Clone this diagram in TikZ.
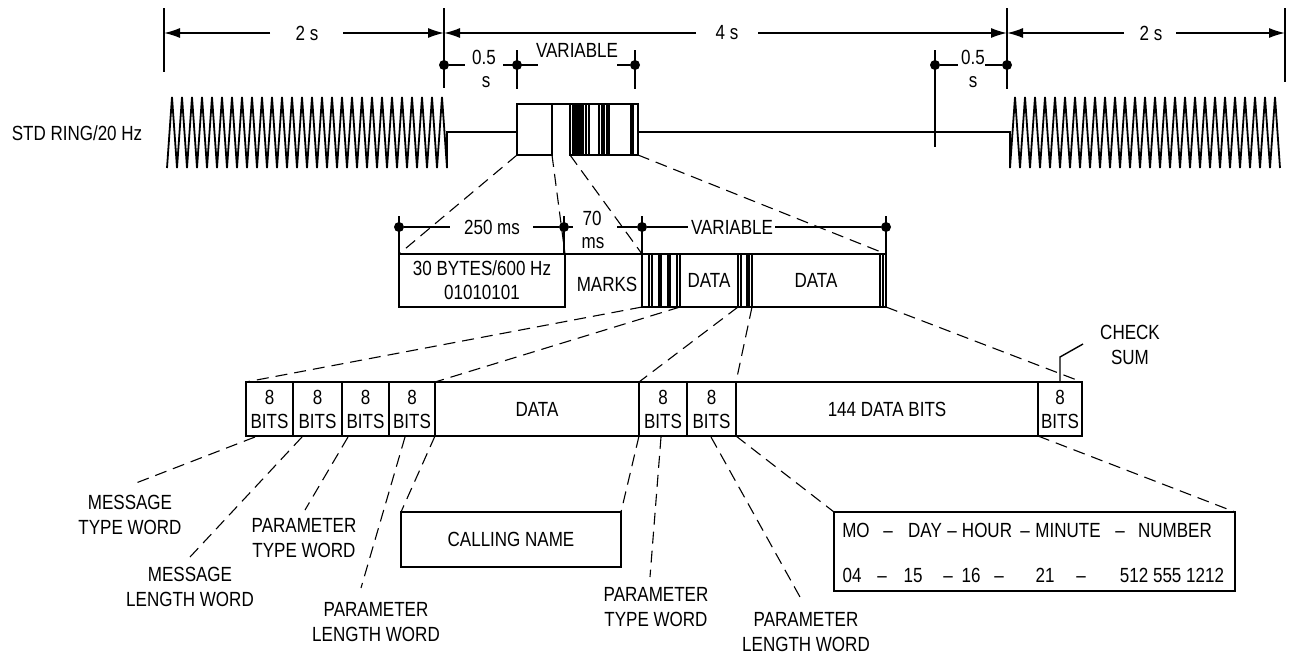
\documentclass[tikz,border=0pt]{standalone}
\usepackage{fontspec}
\setmainfont{Liberation Sans}[FakeStretch=0.83]
\usetikzlibrary{arrows.meta}
\begin{document}
\begin{tikzpicture}[x=1pt,y=-1pt,
  lbl/.style={font=\fontsize{20.5pt}{25.5pt}\selectfont, inner sep=0pt, align=center},
  box/.style={draw, line width=1.8pt, inner sep=0pt, outer sep=0pt, anchor=north west,
              font=\fontsize{20.5pt}{24pt}\selectfont, align=center},
  boxln/.style={line width=1.8pt},
  wave/.style={line width=1.8pt, line join=miter},
  stripe/.style={line width=1.5pt},
  dimln/.style={line width=1.4pt},
  dashln/.style={line width=1.1pt, dash pattern=on 12pt off 7pt},
  arr/.style={-{Latex[length=16pt,width=10pt]}},
  dotn/.style={circle, fill, inner sep=0pt, minimum size=10pt}
]
\useasboundingbox (0,0) rectangle (1292,656);

% ---------------- top dimension lines ----------------
\coordinate (tk1a) at (164,8);   \coordinate (tk1b) at (164,72);
\coordinate (tk2a) at (444,8);   \coordinate (tk2b) at (444,88);
\coordinate (tk3a) at (1007,8);  \coordinate (tk3b) at (1007,89);
\coordinate (tk4a) at (1285,8);  \coordinate (tk4b) at (1285,82);
\draw[dimln] (tk1a) -- (tk1b);
\draw[dimln] (tk2a) -- (tk2b);
\draw[dimln] (tk3a) -- (tk3b);
\draw[dimln] (tk4a) -- (tk4b);

\node[lbl] (t2a) at (307,33) {2 s};
\node[lbl] (t4) at (727,33) {4 s};
\node[lbl] (t2b) at (1151,33) {2 s};
\coordinate (a1) at (270,33); \coordinate (a2) at (343,33);
\coordinate (a3) at (696,33); \coordinate (a4) at (758,33);
\coordinate (a5) at (1124,33); \coordinate (a6) at (1176,33);
\draw[dimln,arr] (a1) -- (tk1a |- a1);
\draw[dimln,arr] (a2) -- (tk2a |- a2);
\draw[dimln,arr] (a3) -- (tk2a |- a3);
\draw[dimln,arr] (a4) -- (tk3a |- a4);
\draw[dimln,arr] (a5) -- (tk3a |- a5);
\draw[dimln,arr] (a6) -- (tk4a |- a6);

% second level dims
\draw[dimln] (517,50) -- (517,89);
\draw[dimln] (635,50) -- (635,89);
\draw[dimln] (935,50) -- (935,147);
\node[dotn] (d1) at (444,65) {};
\node[dotn] (d2) at (517,65) {};
\node[dotn] (d3) at (635,65) {};
\node[dotn] (d4) at (935,65) {};
\node[dotn] (d5) at (1007,65) {};
\coordinate (e1) at (465,65); \coordinate (e2) at (503,65); \coordinate (e3) at (538,65);
\coordinate (e4) at (617,65); \coordinate (e5) at (958,65); \coordinate (e6) at (985,65);
\draw[dimln] (d1) -- (e1);
\draw[dimln] (e2) -- (e3);
\draw[dimln] (e4) -- (d3);
\draw[dimln] (d4) -- (e5);
\draw[dimln] (e6) -- (d5);
\node[lbl, anchor=base] (h1) at (484,64) {0.5};
\node[lbl, anchor=base] (h2) at (486,87) {s};
\node[lbl] (v1) at (577,50) {VARIABLE};
\node[lbl, anchor=base] (h3) at (973,64) {0.5};
\node[lbl, anchor=base] (h4) at (973,87) {s};

% ---------------- ringing waveform ----------------
\node[lbl] (std) at (77,133) {STD RING/20 Hz};
\draw[wave] (167,168) \foreach \i in {0,...,27}{ -- ({172+10*\i},97) -- ({177+10*\i},168) } -- (447,132) -- (517,132);
\node[box, minimum width=35pt, minimum height=51pt] (r1) at (517,104) {};
\node[box, minimum width=68pt, minimum height=51pt] (r2) at (570,104) {};
\draw[boxln] (r1.north east) -- (r2.north west);
\foreach \x in {573,575,577,579,581,583,586,589,599,602,604,607,609,631,633}
  \draw[stripe] (\x,104) -- (\x,155);
\draw[wave] (638,132) -- (1010,132) -- (1010,168) \foreach \i in {0,...,26}{ -- ({1015+10*\i},97) -- ({1020+10*\i},168) };

% ---------------- middle row ----------------
\node[box, minimum width=166pt, minimum height=53pt] (m1) at (399,254) {30 BYTES/600 Hz\\01010101};
\node[box, minimum width=38pt, minimum height=53pt] (ms1) at (642,254) {};
\node[box, minimum width=58pt, minimum height=53pt] (md1) at (680,254) {DATA};
\node[box, minimum width=14pt, minimum height=53pt] (ms2) at (738,254) {};
\node[box, minimum width=128pt, minimum height=53pt] (md2) at (752,254) {DATA};
\node[box, minimum width=6pt, minimum height=53pt] (ms3) at (880,254) {};
\draw[boxln] (m1.north east) -- (ms1.north west);
\node[lbl] (mk) at (607,284) {MARKS};
\foreach \x in {649,652,659,661,668,670,677,741,747,749,883}
  \draw[stripe] (\x,254) -- (\x,307);

% middle dims
\node[dotn] (g1) at (399,227) {};
\node[dotn] (g2) at (564,227) {};
\node[dotn] (g3) at (642,227) {};
\node[dotn] (g4) at (886,227) {};
\draw[dimln] (399,216) -- (m1.north west);
\draw[dimln] (564,216) -- (564,254);
\draw[dimln] (642,216) -- (ms1.north west);
\draw[dimln] (886,216) -- (ms3.north east);
\coordinate (f1) at (450,227); \coordinate (f2) at (533,227); \coordinate (f3) at (573,227);
\coordinate (f4) at (617,227); \coordinate (f5) at (688,227); \coordinate (f6) at (775,227);
\draw[dimln] (g1) -- (f1);
\draw[dimln] (f2) -- (g2) -- (f3);
\draw[dimln] (f4) -- (g3) -- (f5);
\draw[dimln] (f6) -- (g4);
\node[lbl] (l250) at (492,227) {250 ms};
\node[lbl, anchor=base] (l70) at (592,225) {70};
\node[lbl, anchor=base] (lms) at (593,248) {ms};
\node[lbl] (v2) at (732,227) {VARIABLE};

% dashed projections top -> middle
\draw[dashln] (r1.south west) -- (m1.north west);
\draw[dashln] (r1.south east) -- (m1.north east);
\draw[dashln] (r2.south west) -- (ms1.north west);
\draw[dashln] (r2.south east) -- (ms3.north east);

% ---------------- bottom row ----------------
\node[box, minimum width=47pt, minimum height=54pt] (b1) at (246,382) {8\\BITS};
\node[box, minimum width=49pt, minimum height=54pt] (b2) at (293,382) {8\\BITS};
\node[box, minimum width=47pt, minimum height=54pt] (b3) at (342,382) {8\\BITS};
\node[box, minimum width=46pt, minimum height=54pt] (b4) at (389,382) {8\\BITS};
\node[box, minimum width=204pt, minimum height=54pt] (b5) at (435,382) {DATA};
\node[box, minimum width=48pt, minimum height=54pt] (b6) at (639,382) {8\\BITS};
\node[box, minimum width=49pt, minimum height=54pt] (b7) at (687,382) {8\\BITS};
\node[box, minimum width=302pt, minimum height=54pt] (b8) at (736,382) {144 DATA BITS};
\node[box, minimum width=44pt, minimum height=54pt] (b9) at (1038,382) {8\\BITS};

% dashed projections middle -> bottom
\draw[dashln] (ms1.south west) -- (b1.north west);
\draw[dashln] (ms1.south east) -- (b5.north west);
\draw[dashln] (ms2.south west) -- (b6.north west);
\draw[dashln] (ms2.south east) -- (b8.north west);
\draw[dashln] (ms3.south east) -- (b9.north east);

% check sum
\node[lbl] (cs) at (1130,345) {CHECK\\SUM};
\coordinate (cs1) at (1060,357); \coordinate (cs2) at (1083,344);
\draw[dimln] (b9.north) -- (cs1) -- (cs2);

% ---------------- bottom labels ----------------
\node[box, minimum width=220pt, minimum height=55pt] (cn) at (401,512) {CALLING NAME};
\node[box, minimum width=401pt, minimum height=79pt] (dt) at (834,512) {};

\node[lbl] (mtw) at (130,515) {MESSAGE\\TYPE WORD};
\node[lbl] (mlw) at (190,587) {MESSAGE\\LENGTH WORD};
\node[lbl] (ptw1) at (304,538) {PARAMETER\\TYPE WORD};
\node[lbl] (plw1) at (376,622) {PARAMETER\\LENGTH WORD};
\node[lbl] (ptw2) at (656,607) {PARAMETER\\TYPE WORD};
\node[lbl] (plw2) at (806,632) {PARAMETER\\LENGTH WORD};

\coordinate (s1) at (255,437); \coordinate (z1) at (136,483);
\coordinate (s2) at (302,437); \coordinate (z2) at (190,557);
\coordinate (s3) at (348,437); \coordinate (z3) at (305,510);
\coordinate (s4) at (405,437); \coordinate (z4) at (361,588);
\coordinate (s5) at (661,437); \coordinate (z5) at (650,577);
\coordinate (s6) at (711,437); \coordinate (z6) at (800,597);
\draw[dashln] (s1) -- (z1);
\draw[dashln] (s2) -- (z2);
\draw[dashln] (s3) -- (z3);
\draw[dashln] (s4) -- (z4);
\draw[dashln] (s5) -- (z5);
\draw[dashln] (s6) -- (z6);
\draw[dashln] (b5.south west) -- (cn.north west);
\draw[dashln] (b5.south east) -- (cn.north east);
\draw[dashln] (b7.south east) -- (dt.north west);
\draw[dashln] (b9.south west) -- (dt.north east);

% date box contents
\foreach \x/\t [count=\k] in {856/MO, 888/--, 925/DAY, 952/--, 987/HOUR, 1025/--, 1068/MINUTE, 1120/--, 1175/NUMBER}
  \node[lbl, anchor=base] (ra\k) at (\x,537.5) {\t};
\foreach \x/\t [count=\k] in {852/04, 882/--, 913/15, 948/--, 971/16, 999/--, 1045/21, 1081/--, 1172/512 555 1212}
  \node[lbl, anchor=base] (rb\k) at (\x,582.5) {\t};
\end{tikzpicture}
\end{document}
